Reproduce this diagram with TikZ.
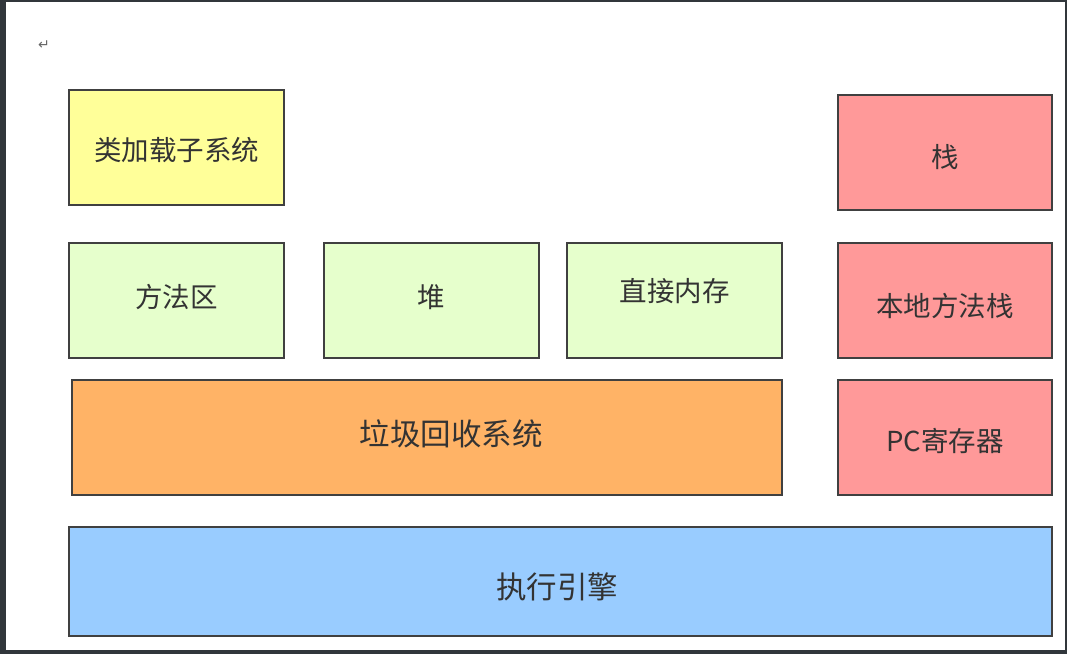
\documentclass[tikz,border=0pt]{standalone}
\usepackage{fontspec}
\setmainfont{Noto Sans CJK SC}
\newfontfamily\symfont{DejaVu Sans}
\usepackage{tikz}
\usetikzlibrary{positioning}
\definecolor{framegray}{HTML}{31363B}
\definecolor{edgegray}{HTML}{404040}
\definecolor{textgray}{HTML}{333333}
\definecolor{loadyellow}{HTML}{FFFF99}
\definecolor{areagreen}{HTML}{E6FFCC}
\definecolor{threadred}{HTML}{FF9999}
\definecolor{gcorange}{HTML}{FFB366}
\definecolor{engineblue}{HTML}{99CCFF}
\tikzstyle{part}   = [draw=edgegray, line width=2pt, text=textgray, inner sep=0pt,
                      minimum width=215pt, minimum height=115pt,
                      text height=24.2pt, text depth=3.3pt,
                      font=\fontsize{27.5}{27.5}\selectfont]
\tikzstyle{bigpart} = [part, text height=26.8pt, text depth=3.7pt,
                       font=\fontsize{30.5}{30.5}\selectfont]
% move a label inside its box: twice the x shift, then the raise
\newcommand{\nudge}[3]{\hspace*{#1}\raisebox{#2}{#3}}

\begin{document}
\begin{tikzpicture}[x=1pt, y=-1pt]
  % page frame
  \fill[framegray] (0,0) rectangle (1067,654);
  \fill[white] (6,2) rectangle (1065,650);
  \node[text=gray!80!black, font=\symfont\fontsize{14}{14}\selectfont] (ret) at (44,45) {↵};

  % top row
  \node[part, fill=loadyellow] (loader) at (176.5,147.5) {\nudge{0pt}{-2.5pt}{类加载子系统}};
  \node[part, fill=threadred, minimum width=214pt] (stk) at (945,152.5) {\nudge{0pt}{-4.5pt}{栈}};

  % runtime data areas
  \node[part, fill=areagreen] (method) at (176.5,300.5) {\nudge{0pt}{3.5pt}{方法区}};
  \node[part, fill=areagreen] (heap) at (431.5,300.5) {\nudge{0pt}{3.5pt}{堆}};
  \node[part, fill=areagreen] (direct) at (674.5,300.5) {\nudge{0pt}{9.5pt}{直接内存}};
  \node[part, fill=threadred, minimum width=214pt] (native) at (945,300.5) {\nudge{0pt}{-5.5pt}{本地方法栈}};

  \node[bigpart, fill=gcorange, minimum width=710pt] (gc) at (427,437.5) {\nudge{48pt}{3.5pt}{垃圾回收系统}};
  \node[part, fill=threadred, minimum width=214pt] (pc) at (945,437.5) {\nudge{0pt}{-3.5pt}{PC寄存器}};

  % bottom
  \node[bigpart, fill=engineblue, minimum width=983pt, minimum height=109pt]
    (engine) at (560.5,581.5) {\nudge{-7pt}{-5.5pt}{执行引擎}};
\end{tikzpicture}
\end{document}
